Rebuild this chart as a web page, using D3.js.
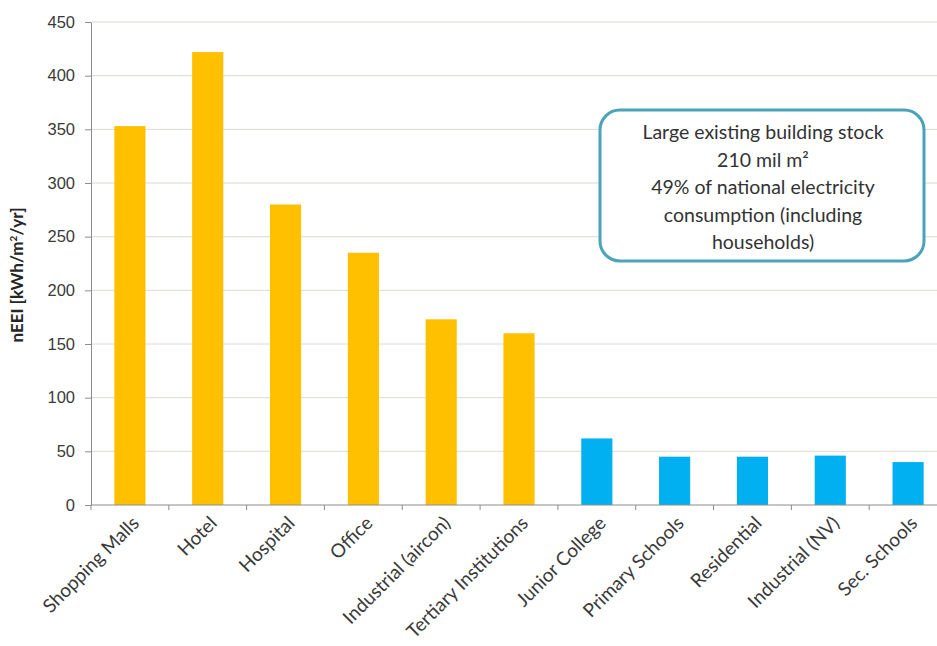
<!DOCTYPE html>
<html>
<head>
<meta charset="utf-8">
<script src="https://cdn.jsdelivr.net/npm/d3@7"></script>
<style>
  html, body { margin: 0; padding: 0; background: #fff; }
  svg { display: block; font-family: Lato, "Open Sans", sans-serif; }
</style>
</head>
<body>
<svg id="chart" width="937" height="646"></svg>
<script>
// Normalised energy efficiency index by building type
const categories = [
  "Shopping Malls", "Hotel", "Hospital", "Office", "Industrial (aircon)",
  "Tertiary Institutions", "Junior College", "Primary Schools", "Residential",
  "Industrial (NV)", "Sec. Schools"
];
const values = [353, 422, 280, 235, 173, 160, 62, 45, 45, 46, 40];
const groups = ["air", "air", "air", "air", "air", "air", "nv", "nv", "nv", "nv", "nv"];
const yTicks = [0, 50, 100, 150, 200, 250, 300, 350, 400, 450];
const noteLines = [
  "Large existing building stock",
  "210 mil m²",
  "49% of national electricity",
  "consumption  (including",
  "households)"
];

const svg = d3.select("#chart");
const plotLeft = 91, plotRight = 947, plotTop = 22, plotBottom = 505;

const x = d3.scaleBand().domain(categories).range([plotLeft, plotRight]).paddingInner(0.6).paddingOuter(0.3);
const y = d3.scaleLinear().domain([0, 450]).range([plotBottom, plotTop]);
const color = d3.scaleOrdinal().domain(["air", "nv"]).range(["#FFC000", "#00B0F0"]);

// Horizontal gridlines
svg.append("g")
  .selectAll("line")
  .data(yTicks.filter(d => d > 0))
  .join("line")
  .attr("x1", plotLeft).attr("x2", plotRight)
  .attr("y1", d => y(d)).attr("y2", d => y(d))
  .attr("stroke", "#d8dcd2").attr("stroke-width", 1);

// Bars
svg.append("g")
  .selectAll("rect")
  .data(categories)
  .join("rect")
  .attr("x", d => x(d))
  .attr("width", x.bandwidth())
  .attr("y", (d, i) => y(values[i]))
  .attr("height", (d, i) => y(0) - y(values[i]))
  .attr("fill", (d, i) => color(groups[i]));

// Y axis
const yAxis = svg.append("g")
  .attr("transform", `translate(${plotLeft},0)`)
  .call(d3.axisLeft(y).tickValues(yTicks).tickSize(6).tickPadding(10).tickSizeOuter(0));
yAxis.select(".domain").attr("stroke", "#8c8c8c");
yAxis.selectAll(".tick line").attr("stroke", "#8c8c8c");
yAxis.selectAll(".tick text").attr("fill", "#3a3a3a").style("font-size", "16.5px");

// X axis with ticks between categories
const step = x.step();
const xAxis = svg.append("g").attr("transform", `translate(0,${plotBottom})`);
xAxis.append("line").attr("x1", plotLeft).attr("x2", plotRight).attr("stroke", "#8c8c8c");
const boundaries = d3.range(categories.length + 1).map(i => plotLeft + i * step);
xAxis.selectAll("line.tk")
  .data(boundaries)
  .join("line")
  .attr("class", "tk")
  .attr("x1", d => d).attr("x2", d => d)
  .attr("y1", 0).attr("y2", 5)
  .attr("stroke", "#8c8c8c");
xAxis.selectAll("text")
  .data(categories)
  .join("text")
  .attr("transform", d => `translate(${x(d) + x.bandwidth() / 2 + 7},16) rotate(-45)`)
  .attr("text-anchor", "end")
  .attr("dominant-baseline", "middle")
  .attr("fill", "#3a3a3a")
  .style("font-size", "19px")
  .text(d => d);

// Y axis title
svg.append("text")
  .attr("transform", `translate(23,275) rotate(-90)`)
  .attr("text-anchor", "middle")
  .attr("font-weight", "bold")
  .attr("fill", "#262626")
  .style("font-size", "17px")
  .html('nEEI [kWh/m<tspan dy="-6" style="font-size:10px">2</tspan><tspan dy="6">/yr]</tspan>');

// Annotation box
const note = svg.append("g");
note.append("rect")
  .attr("x", 600).attr("y", 110)
  .attr("width", 324).attr("height", 151)
  .attr("rx", 20).attr("ry", 20)
  .attr("fill", "#fff")
  .attr("stroke", "#4aa3b8").attr("stroke-width", 3);
note.selectAll("text")
  .data(noteLines)
  .join("text")
  .attr("x", 763)
  .attr("y", (d, i) => 139 + i * 27.5)
  .attr("text-anchor", "middle")
  .attr("fill", "#333")
  .style("font-size", "19.5px")
  .text(d => d);
</script>
</body>
</html>
